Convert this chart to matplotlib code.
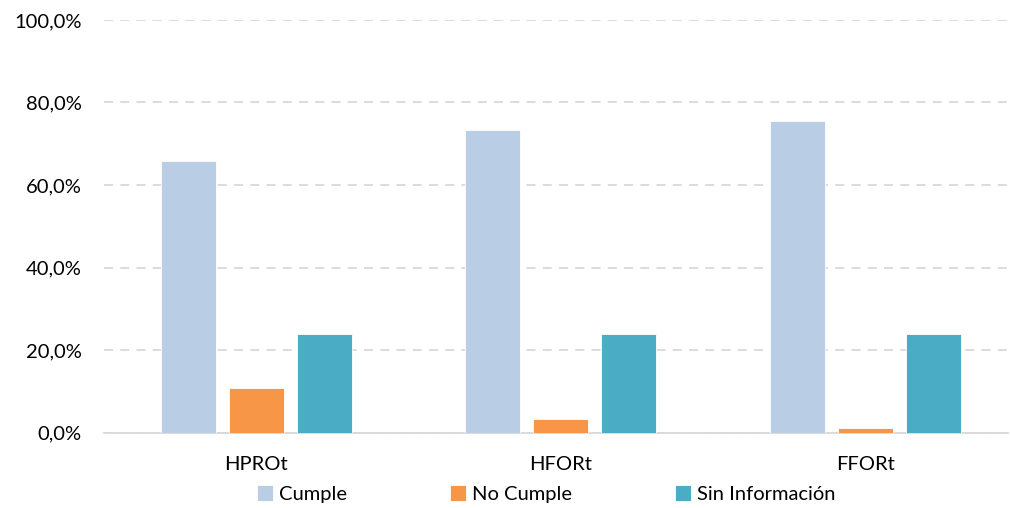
import matplotlib
matplotlib.use("Agg")
import matplotlib.pyplot as plt
import numpy as np
from matplotlib.ticker import FuncFormatter

categories = ["HPROt", "HFORt", "FFORt"]
series_names = ["Cumple", "No Cumple", "Sin Información"]
cumple = [65.8, 73.3, 75.5]
no_cumple = [10.7, 3.3, 1.0]
sin_info = [23.8, 23.8, 23.8]
colors = ["#B9CDE5", "#F79646", "#4BACC6"]
y_ticks = [0, 20, 40, 60, 80, 100]

plt.rcParams["font.family"] = ["Lato", "DejaVu Sans"]

fig = plt.figure(figsize=(10.10, 5.08), dpi=100)
ax = fig.add_axes([104 / 1010, 75.5 / 508, 904 / 1010, 412.5 / 508])

x = np.arange(len(categories))
width = 0.18
offset = 0.223
handles = []
for i, (vals, name, col) in enumerate(zip([cumple, no_cumple, sin_info], series_names, colors)):
    b = ax.bar(x + (i - 1) * offset, vals, width, color=col, label=name,
               edgecolor="white", linewidth=0.6, zorder=3)
    handles.append(b)

ax.set_xlim(-0.5, 2.469)
ax.set_ylim(0, 100)
ax.set_yticks(y_ticks)
ax.yaxis.set_major_formatter(FuncFormatter(lambda v, p: f"{v:.1f}".replace(".", ",") + "%"))
ax.set_xticks(x)
ax.set_xticklabels(categories)
ax.tick_params(axis="both", length=0, labelsize=14.5, colors="#000000")
ax.tick_params(axis="y", pad=16)
ax.tick_params(axis="x", pad=17)

ax.yaxis.grid(True, color="#D9D9D9", linestyle=(0, (5, 4)), linewidth=1.3, zorder=0)
ax.set_axisbelow(True)
for side in ["top", "right", "left"]:
    ax.spines[side].set_visible(False)
ax.spines["bottom"].set_color("#D9D9D9")
ax.spines["bottom"].set_linewidth(1.3)

fig.legend(handles=handles, labels=series_names, loc="center",
           bbox_to_anchor=(546 / 1010, 1 - 494 / 508), ncol=3, frameon=False,
           fontsize=14.5, handlelength=0.8, handleheight=0.8,
           handletextpad=0.3, columnspacing=5.1)

fig.savefig("out.png", dpi=100)
